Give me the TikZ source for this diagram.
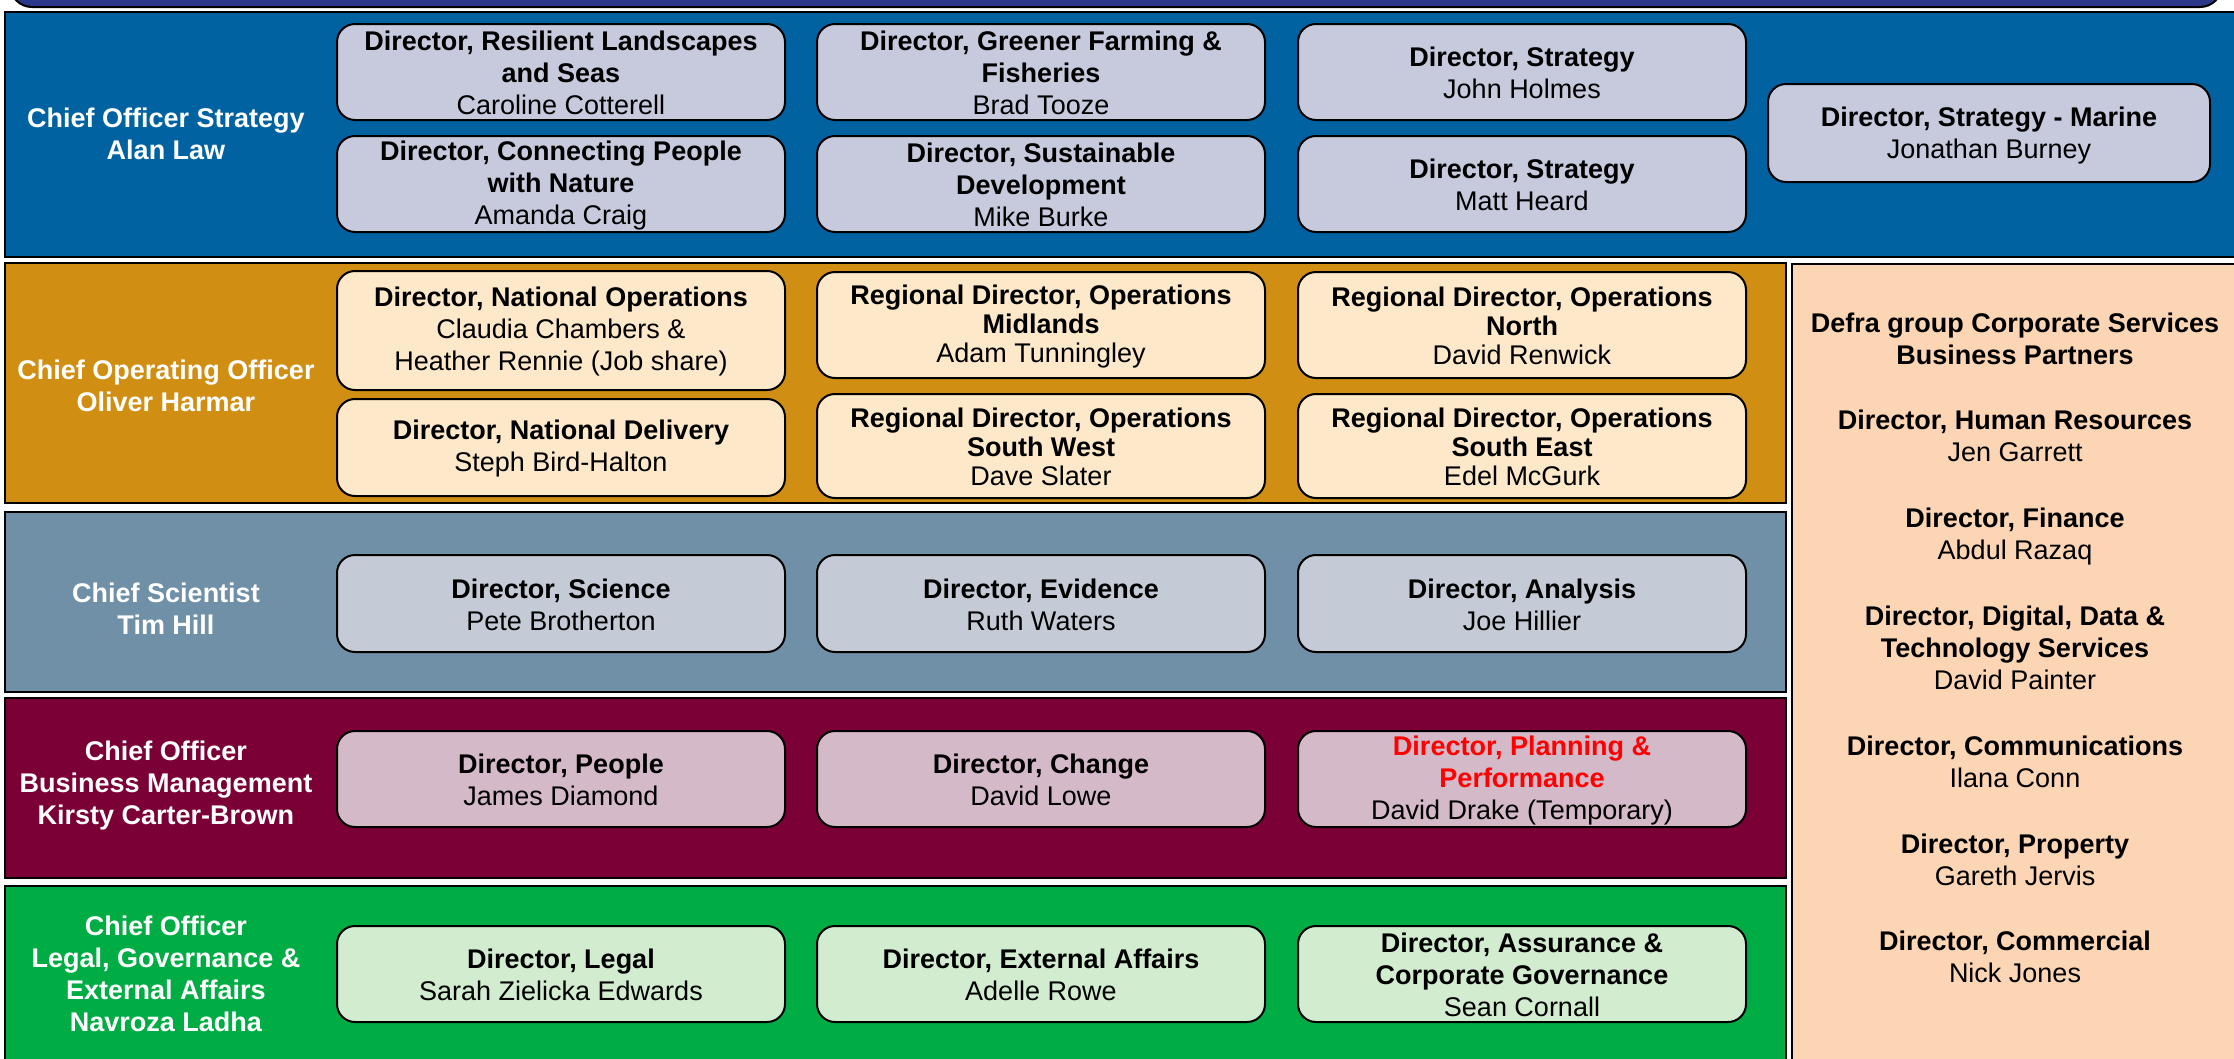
\documentclass[tikz,border=0pt]{standalone}
\usepackage{fontspec}
\setmainfont{Liberation Sans}
\definecolor{navy}{RGB}{44,56,138}
\definecolor{stratblue}{RGB}{0,98,160}
\definecolor{cooorange}{RGB}{208,142,18}
\definecolor{scislate}{RGB}{111,144,167}
\definecolor{bizmaroon}{RGB}{122,0,54}
\definecolor{legalgreen}{RGB}{0,173,68}
\definecolor{peach}{RGB}{252,213,180}
\definecolor{stratfill}{RGB}{199,202,221}
\definecolor{coofill}{RGB}{253,233,201}
\definecolor{scifill}{RGB}{197,203,214}
\definecolor{bizfill}{RGB}{212,185,200}
\definecolor{legalfill}{RGB}{210,236,208}
\definecolor{alert}{RGB}{255,0,0}
% rounded director box with its text set a little below the box centre
% #1 box options, #2 text options, #3 name, #4 x, #5 y, #6 text
\newcommand\orgbox[6]{%
  \node[dirbox,#1] (#3) at (#4,#5) {};
  \node[boxtext,#2] (#3-text) at ([yshift=-1.3pt]#3.center) {#6};}
\begin{document}
\begin{tikzpicture}[x=1pt,y=-1pt,
  every node/.style={font=\fontsize{27}{32}\selectfont, inner sep=0pt},
  band/.style={draw=black, line width=2.5pt},
  dirbox/.style={draw=black, line width=2pt, rounded corners=18pt,
    minimum width=448pt, minimum height=96pt},
  boxtext/.style={align=center},
  tight/.style={font=\fontsize{27}{29}\selectfont},
  lbl/.style={text=white, font=\fontsize{27}{32}\selectfont\bfseries, align=center},
  partner/.style={align=center}]
\useasboundingbox (0,0) rectangle (2234,1058);
\clip (0,0) rectangle (2234,1058);
\fill[white] (0,0) rectangle (2234,1058);

% header strip
\draw[fill=navy, line width=2pt, rounded corners=22pt] (10,-60) rectangle (2222,7);

% bands
\draw[band, fill=stratblue]  (5,12)  rectangle (2250,257);
\draw[band, fill=cooorange]  (5,263) rectangle (1786,503);
\draw[band, fill=scislate]   (5,512) rectangle (1786,692);
\draw[band, fill=bizmaroon]  (5,698) rectangle (1786,878);
\draw[band, fill=legalgreen] (5,886) rectangle (1786,1080);
\draw[draw=black, line width=1.5pt, fill=peach] (1792,264) rectangle (2250,1080);

% chief officers
\node[lbl] (strat) at (166,134) {Chief Officer Strategy\\Alan Law};
\node[lbl] (coo) at (166,386) {Chief Operating Officer\\Oliver Harmar};
\node[lbl] (sci) at (166,608.5) {Chief Scientist\\Tim Hill};
\node[lbl] (biz) at (166,786) {Chief Officer\\Business Management\\Kirsty Carter-Brown};
\node[lbl] (legal) at (166,973.5) {Chief Officer\\Legal, Governance \&\\External Affairs\\Navroza Ladha};

% strategy directors
\orgbox{fill=stratfill}{}{rls}{561}{72}{\textbf{Director, Resilient Landscapes}\\\textbf{and Seas}\\Caroline Cotterell}
\orgbox{fill=stratfill}{}{cpn}{561}{184}{\textbf{Director, Connecting People}\\\textbf{with Nature}\\Amanda Craig}
\orgbox{fill=stratfill}{}{gff}{1041}{72}{\textbf{Director, Greener Farming \&}\\\textbf{Fisheries}\\Brad Tooze}
\orgbox{fill=stratfill}{}{sd}{1041}{184}{\textbf{Director, Sustainable}\\\textbf{Development}\\Mike Burke}
\orgbox{fill=stratfill}{}{st1}{1522}{72}{\textbf{Director, Strategy}\\John Holmes}
\orgbox{fill=stratfill}{}{st2}{1522}{184}{\textbf{Director, Strategy}\\Matt Heard}
\orgbox{fill=stratfill, minimum width=442pt, minimum height=98pt}{yshift=-1pt}{marine}{1989}{133}{\textbf{Director, Strategy - Marine}\\Jonathan Burney}

% operations directors
\orgbox{fill=coofill, minimum height=119pt}{}{natops}{561}{330.5}{\textbf{Director, National Operations}\\Claudia Chambers \&\\Heather Rennie (Job share)}
\orgbox{fill=coofill, minimum height=97pt}{}{natdel}{561}{447.5}{\textbf{Director, National Delivery}\\Steph Bird-Halton}
\orgbox{fill=coofill, minimum height=106pt}{tight}{mid}{1041}{325}{\textbf{Regional Director, Operations}\\\textbf{Midlands}\\Adam Tunningley}
\orgbox{fill=coofill, minimum height=106pt}{tight}{north}{1522}{325}{\textbf{Regional Director, Operations}\\\textbf{North}\\David Renwick}
\orgbox{fill=coofill, minimum height=104pt}{tight}{sw}{1041}{446}{\textbf{Regional Director, Operations}\\\textbf{South West}\\Dave Slater}
\orgbox{fill=coofill, minimum height=104pt}{tight}{se}{1522}{446}{\textbf{Regional Director, Operations}\\\textbf{South East}\\Edel McGurk}

% science directors
\orgbox{fill=scifill, minimum height=97pt}{}{science}{561}{603.5}{\textbf{Director, Science}\\Pete Brotherton}
\orgbox{fill=scifill, minimum height=97pt}{}{evidence}{1041}{603.5}{\textbf{Director, Evidence}\\Ruth Waters}
\orgbox{fill=scifill, minimum height=97pt}{}{analysis}{1522}{603.5}{\textbf{Director, Analysis}\\Joe Hillier}

% business management directors
\orgbox{fill=bizfill}{}{people}{561}{779}{\textbf{Director, People}\\James Diamond}
\orgbox{fill=bizfill}{}{change}{1041}{779}{\textbf{Director, Change}\\David Lowe}
\orgbox{fill=bizfill}{}{planning}{1522}{779}{\textcolor{alert}{\textbf{Director, Planning \&}}\\\textcolor{alert}{\textbf{Performance}}\\David Drake (Temporary)}

% legal directors
\orgbox{fill=legalfill}{}{legaldir}{561}{974}{\textbf{Director, Legal}\\Sarah Zielicka Edwards}
\orgbox{fill=legalfill}{}{extaff}{1041}{974}{\textbf{Director, External Affairs}\\Adelle Rowe}
\orgbox{fill=legalfill}{}{assur}{1522}{974}{\textbf{Director, Assurance \&}\\\textbf{Corporate Governance}\\Sean Cornall}

% corporate services business partners
\node[partner, font=\fontsize{27}{32}\selectfont\bfseries] (defra) at (2015,338.5) {Defra group Corporate Services\\Business Partners};
\node[partner] (hr) at (2015,436) {\textbf{Director, Human Resources}\\Jen Garrett};
\node[partner] (fin) at (2015,536.5) {\textbf{Director, Finance}\\Abdul Razaq};
\node[partner] (ddts) at (2015,647.5) {\textbf{Director, Digital, Data \&}\\\textbf{Technology Services}\\David Painter};
\node[partner] (comms) at (2015,762) {\textbf{Director, Communications}\\Ilana Conn};
\node[partner] (prop) at (2015,860) {\textbf{Director, Property}\\Gareth Jervis};
\node[partner] (comm) at (2015,957) {\textbf{Director, Commercial}\\Nick Jones};
\end{tikzpicture}
\end{document}
